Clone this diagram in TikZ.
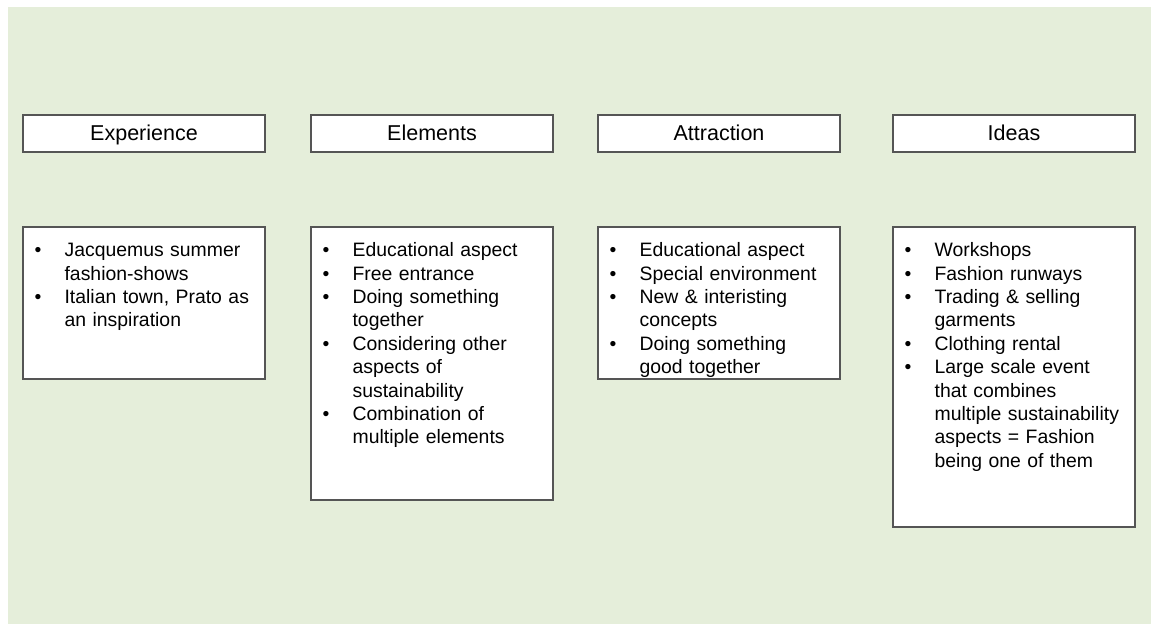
\documentclass[tikz,border=0pt]{standalone}
\usepackage{fontspec}
\setmainfont{Liberation Sans}
\definecolor{bg}{RGB}{229,238,218}
\definecolor{edge}{RGB}{85,85,85}
\newcommand\bitem{\par\hangindent=30pt\hangafter=1\noindent\makebox[30pt][l]{\strut•}}
\begin{document}
\begin{tikzpicture}[x=1pt,y=-1pt,
  hbox/.style={draw=edge, line width=1.2pt, fill=white, minimum width=242pt, minimum height=37pt, inner sep=0pt,
    text height=18.5pt, text depth=4.5pt, font=\fontsize{21.5}{25}\selectfont},
  cbox/.style={draw=edge, line width=1.2pt, fill=white, minimum width=242pt, inner sep=0pt},
  listtext/.style={anchor=north west, inner sep=0pt, text width=225pt, xshift=12pt, yshift=-6.6pt,
    font=\fontsize{19.4}{23.4}\selectfont}]
\useasboundingbox (0,0) rectangle (1151,624);
\fill[bg] (8,7) rectangle (1151,624);
% headers
\node[hbox] (h1) at (144,133.5) {Experience};
\node[hbox] (h2) at (432,133.5) {Elements};
\node[hbox] (h3) at (719,133.5) {Attraction};
\node[hbox] (h4) at (1014,133.5) {Ideas};
% content boxes
\node[cbox, minimum height=152pt] (b1) at (144,303) {};
\node[cbox, minimum height=273pt] (b2) at (432,363.5) {};
\node[cbox, minimum height=152pt] (b3) at (719,303) {};
\node[cbox, minimum height=300pt] (b4) at (1014,377) {};
% lists
\node[listtext] (l1) at (b1.north west) {\parindent=0pt\raggedright
  \bitem Jacquemus summer\newline fashion-shows
  \bitem Italian town, Prato as\newline an inspiration\par};
\node[listtext] (l2) at (b2.north west) {\parindent=0pt\raggedright
  \bitem Educational aspect
  \bitem Free entrance
  \bitem Doing something\newline together
  \bitem Considering other\newline aspects of\newline sustainability
  \bitem Combination of\newline multiple elements\par};
\node[listtext] (l3) at (b3.north west) {\parindent=0pt\raggedright
  \bitem Educational aspect
  \bitem Special environment
  \bitem New \& interisting\newline concepts
  \bitem Doing something\newline good together\par};
\node[listtext] (l4) at (b4.north west) {\parindent=0pt\raggedright
  \bitem Workshops
  \bitem Fashion runways
  \bitem Trading \& selling\newline garments
  \bitem Clothing rental
  \bitem Large scale event\newline that combines\newline multiple sustainability\newline aspects = Fashion\newline being one of them\par};
\end{tikzpicture}
\end{document}
